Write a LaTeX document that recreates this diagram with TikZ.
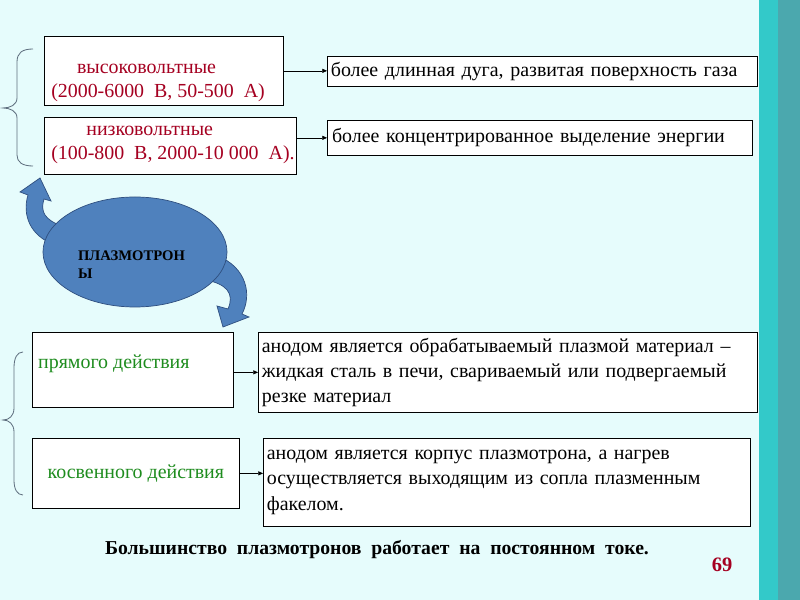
\documentclass[tikz,border=0pt]{standalone}
\usepackage{fontspec}
\setmainfont{Liberation Serif}
\usetikzlibrary{positioning,arrows.meta,shapes.geometric}
\definecolor{bgcyan}{HTML}{E6FCFC}
\definecolor{stripea}{HTML}{33C9C9}
\definecolor{stripeb}{HTML}{4BA8AE}
\definecolor{voltred}{HTML}{A50021}
\definecolor{actgreen}{HTML}{1E8C1E}
\definecolor{plblue}{HTML}{4F81BD}
\definecolor{pledge}{HTML}{2F4F7F}
\definecolor{bracegray}{HTML}{5F6F7F}
\begin{document}
\begin{tikzpicture}[x=0.03cm,y=-0.03cm,
  box/.style={draw=black, fill=white, line width=0.6pt, inner xsep=3pt, inner ysep=1pt, anchor=north west},
  volttext/.style={text=voltred, align=left, inner sep=0pt, anchor=west, font=\fontsize{17}{20.5}\selectfont},
  note/.style={box, align=left, font=\fontsize{17}{21.5}\selectfont},
  act/.style={box, text=actgreen, font=\fontsize{17}{21}\selectfont},
  conn/.style={draw=black, line width=0.5pt, -{Triangle[length=4pt,width=3.5pt]}},
  bendarrow/.style={fill=plblue, draw=pledge, line width=0.6pt},
  brace/.style={draw=bracegray, line width=0.7pt}]
\useasboundingbox (0,0) rectangle (800,600);
% background and side stripes
\fill[bgcyan] (0,0) rectangle (800,600);
\fill[stripea] (759,0) rectangle (778,600);
\fill[stripeb] (778,0) rectangle (800,600);

% upper group
\node[box, minimum width=7.17cm, minimum height=2.07cm,
  label={[volttext, xshift=6pt, yshift=-10.5pt]west:{\hspace*{22pt}высоковольтные\\(2000-6000\ \ В, 50-500\ \ А)}}]
  (hv) at (44,36) {};
\node[box, minimum width=7.56cm, minimum height=1.71cm,
  label={[volttext, xshift=6pt, yshift=0.5pt]west:{\hspace*{30pt}низковольтные\\(100-800\ \ В, 2000-10 000\ \ А).}}]
  (lv) at (44,117) {};
\node[note, text width=12.69cm, minimum height=0.9cm] (hvr) at (327,56)
  {более длинная дуга, развитая поверхность газа};
\node[note, text width=12.54cm, minimum height=1.05cm] (lvr) at (327,120)
  {\hspace*{1pt}более концентрированное выделение энергии};
\draw[conn] (hv.east) -- (hv.east -| hvr.west);
\draw[conn] (lv.east |- lvr.west) -- (lvr.west);
\draw[brace] (33,49) .. controls (22,49) and (17,53) .. (17,62) -- (17,98)
  .. controls (17,105) and (10,108) .. (3,108)
  .. controls (10,108) and (17,111) .. (17,118) -- (17,155)
  .. controls (17,162) and (22,166) .. (33,166);

% plasmatron and its bent arrows
\draw[bendarrow] (40,178) -- (51,201) -- (44,199) .. controls (40,212) and (45,220) .. (62,226)
  -- (55,245) .. controls (30,236) and (22,215) .. (28,195) -- (20,192) -- cycle;
\draw[bendarrow] (223,327) -- (217,306) -- (228,309) .. controls (235,293) and (226,284) .. (206,280)
  -- (218,256) .. controls (247,268) and (252,295) .. (242,314) -- (249,317) -- cycle;
\node[ellipse, fill=plblue, draw=pledge, line width=0.6pt,
  minimum width=5.52cm, minimum height=3.3cm] (pl) at (135,252) {};
\node[align=left, font=\fontsize{12.5}{15}\selectfont\bfseries] (pltext) at ([xshift=-3pt,yshift=-11pt]pl.center)
  {ПЛАЗМОТРОН\\Ы};

% lower group
\node[box, minimum width=6.03cm, minimum height=2.25cm,
  label={[act, draw=none, fill=none, inner sep=0pt, anchor=west, xshift=5pt, yshift=5pt]west:прямого действия}]
  (dir) at (32,332) {};
\node[act, align=center, minimum width=6.21cm, minimum height=2.1cm] (ind) at (32,438)
  {косвенного действия};
\node[note, text width=14.76cm, minimum height=2.4cm] (dirr) at (258,332)
  {анодом является обрабатываемый плазмой материал –\\жидкая сталь в печи, свариваемый или подвергаемый\\резке материал};
\node[note, text width=14.4cm, minimum height=2.64cm] (indr) at (263,438)
  {анодом является корпус плазмотрона, а нагрев\\осуществляется выходящим из сопла плазменным\\факелом.};
\draw[conn] (dir.east |- dirr.west) -- (dirr.west);
\draw[conn] (ind.east) -- (ind.east -| indr.west);
\draw[brace] (23,352) .. controls (17,352) and (14,358) .. (14,368) -- (14,408)
  .. controls (14,416) and (9,420) .. (3,420)
  .. controls (9,420) and (14,424) .. (14,432) -- (14,480)
  .. controls (14,489) and (17,495) .. (23,495);

% footer
\node[font=\fontsize{16.8}{18}\selectfont\bfseries] (foot) at (377,550)
  {Большинство\ \ плазмотронов\ \ работает\ \ на\ \ постоянном\ \ токе.};
\node[font=\fontsize{17.5}{19}\selectfont\bfseries, text=voltred] (pgno) at (722,565) {69};
\end{tikzpicture}
\end{document}
